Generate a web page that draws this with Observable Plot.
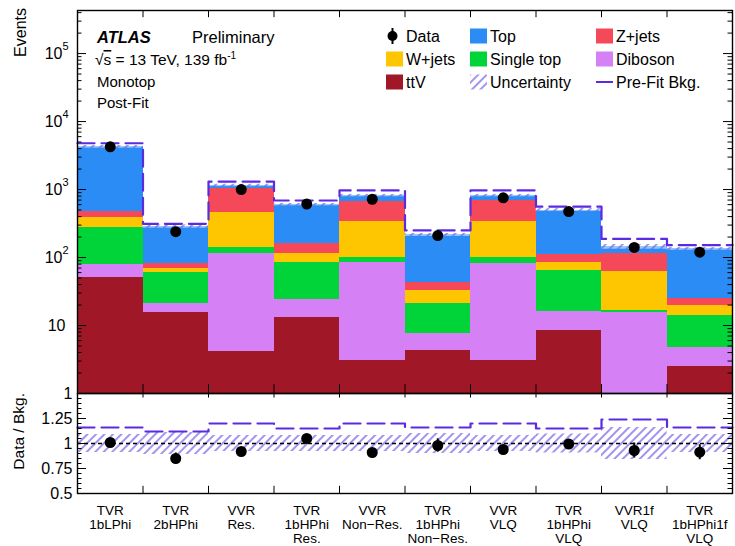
<!DOCTYPE html>
<html><head><meta charset="utf-8">
<script src="https://cdn.jsdelivr.net/npm/d3@7"></script>
<script src="https://cdn.jsdelivr.net/npm/@observablehq/plot@0.6"></script>
<style>
body{margin:0;background:#fff;}
#wrap{position:relative;width:735px;height:546px;font-family:"Liberation Sans",Arial,Helvetica,sans-serif;}
#wrap svg{position:absolute;left:0;overflow:visible;}
</style></head><body><div id="wrap"></div>
<script>
// ---------------- data ----------------
const regions = ["TVR\n1bLPhi","TVR\n2bHPhi","VVR\nRes.","TVR\n1bHPhi\nRes.","VVR\nNon−Res.","TVR\n1bHPhi\nNon−Res.","VVR\nVLQ","TVR\n1bHPhi\nVLQ","VVR1f\nVLQ","TVR\n1bHPhi1f\nVLQ"];
const processes = ["ttV","Diboson","Single top","W+jets","Z+jets","Top"];
const processColors = ["#a01828","#d680f5","#00d438","#fdc600","#f54858","#2b8cf5"];
const ttV       = [50, 15.7, 4.2, 13, 3.1, 4.3, 3.06, 8.4, 0.5, 2.5];
const diboson   = [28, 5.3, 110.8, 11, 80.9, 3.3, 77.9, 7.8, 14.9, 2.3];
const singleTop = [202, 39, 24, 61, 17, 13.4, 18, 47.8, 1.2, 9.2];
const wjets     = [110, 9, 326, 31, 239, 12, 241, 20, 45.4, 6];
const zjets     = [90, 13, 555, 43, 335, 9.5, 350, 26, 54, 4.6];
const topQuark  = [3770, 204, 130, 441, 140, 172.5, 125, 390, 28, 109.4];
const dataEvents = [4250, 240, 1000, 613, 720, 210, 755, 475, 141, 120];
const preFitBkg  = [4800, 313, 1310, 690, 970, 250, 970, 560, 188, 152];
const relUnc     = [0.09, 0.11, 0.08, 0.08, 0.08, 0.10, 0.08, 0.095, 0.16, 0.09];
const dataRatio  = [1.01, 0.85, 0.92, 1.05, 0.91, 0.98, 0.94, 0.995, 0.93, 0.913];
const dataRatioErr = [0.015, 0.055, 0.03, 0.04, 0.035, 0.067, 0.035, 0.045, 0.075, 0.075];
const preFitRatio = [1.16, 1.12, 1.20, 1.15, 1.20, 1.16, 1.20, 1.15, 1.24, 1.16];
const mainTickValues = [1, 10, 100, 1000, 10000, 100000];
const mainTickBase = ["1", "10", "10", "10", "10", "10"];
const mainTickExp  = ["", "", "2", "3", "4", "5"];
const ratioTickValues = [0.5, 0.75, 1, 1.25];
const ratioTickLabels = ["0.5", "0.75", "1", "1.25"];

// ---------------- layout ----------------
const W = 735, ML = 77, MR = 3, MT = 10, MAIN_H = 393, RATIO_H = 153, RATIO_MB = 53;
const yDomain = [1, 4.3e5];
const rDomain = [0.5, 1.5];
const pxPerX = (W - ML - MR) / 10;
const pxPerDec = (MAIN_H - MT) / Math.log10(yDomain[1] / yDomain[0]);
const pxPerR = (RATIO_H - RATIO_MB) / (rDomain[1] - rDomain[0]);
const majLen = 9, minLen = 4.5;
const FONT = '"Liberation Sans",Arial,Helvetica,sans-serif';
const PURPLE = "#5a2be2", HATCH = "#7a66e8", DASH = "17,7";

const series = [ttV, diboson, singleTop, wjets, zjets, topQuark];
const idx = d3.range(regions.length);
const rows = [];
idx.forEach(i => {
  let cum = 0;
  series.forEach((s, p) => {
    rows.push({i, proc: processes[p], y1: p === 0 ? 0.1 : cum, y2: cum + s[i]});
    cum += s[i];
  });
});
const total = idx.map(i => d3.sum(series, s => s[i]));
const edges = d3.range(1, 10);
const majorLog = mainTickValues;
const minorLog = [];
for (let k = 0; k < 6; k++) for (let m = 2; m <= 9; m++) { const v = m * 10 ** k; if (v < yDomain[1]) minorLog.push(v); }
const stepPts = arr => idx.flatMap(i => [{x: i, y: arr[i]}, {x: i + 1, y: arr[i]}]);
const xl = len => len / pxPerX;
const logUp = len => 10 ** (len / pxPerDec);
const hatchDef = (id, bg) => `<defs><pattern id="${id}" patternUnits="userSpaceOnUse" width="6" height="6" patternTransform="rotate(45)">
     ${bg ? '<rect width="6" height="6" fill="white" fill-opacity="0.5"/>' : ''}
     <line x1="1" y1="0" x2="1" y2="6" stroke="${HATCH}" stroke-width="1.4"/></pattern></defs>`;

const wrap = document.getElementById("wrap");

// ---------------- main panel ----------------
const main = Plot.plot({
  width: W, height: MAIN_H, marginLeft: ML, marginRight: MR, marginTop: MT, marginBottom: 0,
  style: {fontFamily: FONT, background: "transparent", overflow: "visible"},
  x: {domain: [0, 10], axis: null},
  y: {type: "log", domain: yDomain, axis: null},
  color: {domain: processes, range: processColors},
  marks: [
    Plot.rect(rows, {x1: d => d.i, x2: d => d.i + 1, y1: "y1", y2: "y2", fill: "proc", clip: true, shapeRendering: "crispEdges"}),
    Plot.rect(idx, {x1: i => i, x2: i => i + 1, y1: i => total[i] * (1 - relUnc[i] / 2), y2: i => total[i] * (1 + relUnc[i] / 2), fill: "url(#hatchM)"}),
    Plot.line(stepPts(preFitBkg), {x: "x", y: "y", stroke: PURPLE, strokeWidth: 2.2, strokeDasharray: DASH}),
    Plot.ruleX(idx, {x: i => i + 0.5, y1: i => dataEvents[i] * (1 - dataRatioErr[i]), y2: i => dataEvents[i] * (1 + dataRatioErr[i]), stroke: "black", strokeWidth: 2}),
    Plot.dot(idx, {x: i => i + 0.5, y: i => dataEvents[i], r: 5.5, fill: "black"}),
    // inward ticks
    Plot.ruleY(majorLog, {y: d => d, x1: 0, x2: xl(majLen), stroke: "black"}),
    Plot.ruleY(minorLog, {y: d => d, x1: 0, x2: xl(minLen), stroke: "black"}),
    Plot.ruleY(majorLog, {y: d => d, x1: 10 - xl(majLen), x2: 10, stroke: "black"}),
    Plot.ruleY(minorLog, {y: d => d, x1: 10 - xl(minLen), x2: 10, stroke: "black"}),
    Plot.ruleX(edges, {x: d => d, y1: yDomain[1], y2: yDomain[1] / logUp(majLen * 0.8), stroke: "black"}),
    Plot.ruleX(edges, {x: d => d, y1: yDomain[0], y2: yDomain[0] * logUp(majLen), stroke: "black"}),
    Plot.frame({stroke: "black", strokeWidth: 1.4}),
    // tick labels
    Plot.text(idx.filter(k => k < 6 && mainTickExp[k] !== ""), {x: 0, y: k => mainTickValues[k], text: k => mainTickBase[k], textAnchor: "end", dx: -15, fontSize: 16, fill: "black"}),
    Plot.text(idx.filter(k => k < 6 && mainTickExp[k] !== ""), {x: 0, y: k => mainTickValues[k], text: k => mainTickExp[k], textAnchor: "start", dx: -15, dy: -7, fontSize: 11, fill: "black"}),
    Plot.text([1], {x: 0, y: k => mainTickValues[k], text: k => mainTickBase[k], textAnchor: "end", dx: -12, fontSize: 16, fill: "black"}),
    Plot.text([0], {x: 0, y: k => mainTickValues[k], text: k => mainTickBase[k], textAnchor: "end", dx: -5, fontSize: 16, fill: "black"})
  ]
});
main.style.top = "0px";
main.insertAdjacentHTML("afterbegin", hatchDef("hatchM", true));
wrap.appendChild(main);

// ---------------- ratio panel ----------------
const rMajor = [0.5, 0.75, 1, 1.25, 1.5];
const rMinor = d3.range(0.55, 1.5, 0.05).map(v => +v.toFixed(2)).filter(v => !rMajor.some(m => Math.abs(m - v) < 1e-6));
const rl = len => len / pxPerR;
const ratio = Plot.plot({
  width: W, height: RATIO_H, marginLeft: ML, marginRight: MR, marginTop: 0, marginBottom: RATIO_MB,
  style: {fontFamily: FONT, background: "transparent", overflow: "visible"},
  x: {domain: [0, 10], axis: null},
  y: {domain: rDomain, axis: null},
  marks: [
    Plot.rect(idx, {x1: i => i, x2: i => i + 1, y1: i => 1 - relUnc[i], y2: i => 1 + relUnc[i], fill: "url(#hatchR)"}),
    Plot.ruleY([1], {stroke: "black", strokeWidth: 1.3, strokeDasharray: "4,3"}),
    Plot.line(stepPts(preFitRatio), {x: "x", y: "y", stroke: PURPLE, strokeWidth: 2.2, strokeDasharray: DASH}),
    Plot.ruleX(idx, {x: i => i + 0.5, y1: i => dataRatio[i] - dataRatioErr[i], y2: i => dataRatio[i] + dataRatioErr[i], stroke: "black", strokeWidth: 2}),
    Plot.dot(idx, {x: i => i + 0.5, y: i => dataRatio[i], r: 5.5, fill: "black"}),
    Plot.ruleY(rMajor, {y: d => d, x1: 0, x2: xl(majLen), stroke: "black"}),
    Plot.ruleY(rMinor, {y: d => d, x1: 0, x2: xl(minLen), stroke: "black"}),
    Plot.ruleY(rMajor, {y: d => d, x1: 10 - xl(majLen), x2: 10, stroke: "black"}),
    Plot.ruleY(rMinor, {y: d => d, x1: 10 - xl(minLen), x2: 10, stroke: "black"}),
    Plot.ruleX(edges, {x: d => d, y1: rDomain[0], y2: rDomain[0] + rl(majLen * 0.8), stroke: "black"}),
    Plot.ruleX(edges, {x: d => d, y1: rDomain[1], y2: rDomain[1] - rl(majLen * 0.5), stroke: "black"}),
    Plot.frame({stroke: "black", strokeWidth: 1.4}),
    Plot.text(ratioTickValues, {x: 0, y: d => d, text: (d, k) => ratioTickLabels[k], textAnchor: "end", dx: -5, fontSize: 16, fill: "black"}),
    Plot.text(idx, {x: i => i + 0.5, y: rDomain[0], text: i => regions[i], lineAnchor: "top", dy: 11, fontSize: 13.5, lineHeight: 1.06, textAnchor: "middle", fill: "black"})
  ]
});
ratio.style.top = MAIN_H + "px";
ratio.insertAdjacentHTML("afterbegin", hatchDef("hatchR", false));
wrap.appendChild(ratio);

// ---------------- labels & legend overlay ----------------
const ov = d3.select(wrap).append("svg").attr("width", W).attr("height", 546).style("top", "0px")
  .style("font-family", FONT).style("pointer-events", "none");
ov.html(hatchDef("hatchL", false));
ov.append("text").attr("transform", "translate(25.5,8) rotate(-90)").attr("text-anchor", "end").attr("font-size", 16).text("Events");
ov.append("text").attr("transform", "translate(24,393) rotate(-90)").attr("text-anchor", "end").attr("font-size", 15.5).text("Data / Bkg.");

ov.append("text").attr("x", 97).attr("y", 43).attr("font-size", 16.5).attr("font-weight", "bold").attr("font-style", "italic").text("ATLAS");
ov.append("text").attr("x", 192).attr("y", 43).attr("font-size", 16.5).text("Preliminary");
const rs = ov.append("text").attr("x", 95).attr("y", 65).attr("font-size", 15.5);
rs.append("tspan").text("√");
rs.append("tspan").attr("text-decoration", "overline").text("s");
rs.append("tspan").text(" = 13 TeV, 139 fb");
rs.append("tspan").attr("dy", -6).attr("font-size", 10).text("-1");
ov.append("text").attr("x", 97).attr("y", 87).attr("font-size", 15).text("Monotop");
ov.append("text").attr("x", 97).attr("y", 108).attr("font-size", 15).text("Post-Fit");

const legendItems = [
  {label: "Data", kind: "data", col: 0, row: 0},
  {label: "Top", kind: "box", color: processColors[5], col: 1, row: 0},
  {label: "Z+jets", kind: "box", color: processColors[4], col: 2, row: 0},
  {label: "W+jets", kind: "box", color: processColors[3], col: 0, row: 1},
  {label: "Single top", kind: "box", color: processColors[2], col: 1, row: 1},
  {label: "Diboson", kind: "box", color: processColors[1], col: 2, row: 1},
  {label: "ttV", kind: "box", color: processColors[0], col: 0, row: 2},
  {label: "Uncertainty", kind: "hatch", col: 1, row: 2},
  {label: "Pre-Fit Bkg.", kind: "line", col: 2, row: 2}
];
const colX = [386, 470, 596], rowY = [36, 59, 82];
legendItems.forEach(it => {
  const x = colX[it.col], cy = rowY[it.row];
  if (it.kind === "box") ov.append("rect").attr("x", x).attr("y", cy - 7.5).attr("width", 17).attr("height", 15).attr("fill", it.color);
  if (it.kind === "hatch") ov.append("rect").attr("x", x).attr("y", cy - 7.5).attr("width", 17).attr("height", 15).attr("fill", "url(#hatchL)");
  if (it.kind === "line") ov.append("line").attr("x1", x).attr("x2", x + 17).attr("y1", cy).attr("y2", cy).attr("stroke", PURPLE).attr("stroke-width", 2);
  if (it.kind === "data") {
    ov.append("line").attr("x1", x + 6.5).attr("x2", x + 6.5).attr("y1", cy - 8).attr("y2", cy + 8).attr("stroke", "black").attr("stroke-width", 2);
    ov.append("circle").attr("cx", x + 6.5).attr("cy", cy).attr("r", 5).attr("fill", "black");
  }
  ov.append("text").attr("x", x + 20).attr("y", cy + 5.8).attr("font-size", 16).text(it.label);
});
</script></body></html>
